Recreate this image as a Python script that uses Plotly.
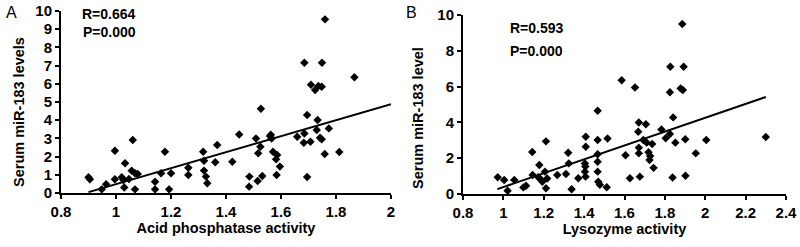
import plotly.graph_objects as go

# Panel A: acid phosphatase activity vs serum miR-183 levels
a_x = [0.900, 0.905, 0.948, 0.964, 0.996, 0.996, 1.021, 1.027, 1.033, 1.030, 1.047, 1.061, 1.057,
       1.069, 1.069, 1.079, 1.142, 1.142, 1.164, 1.178, 1.193, 1.200, 1.263, 1.263, 1.317, 1.320,
       1.320, 1.327, 1.332, 1.361, 1.368, 1.423, 1.448, 1.485, 1.484, 1.509, 1.517, 1.515, 1.525,
       1.527, 1.532, 1.560, 1.566, 1.563, 1.571, 1.586, 1.582, 1.596, 1.584, 1.659, 1.683, 1.685,
       1.685, 1.695, 1.695, 1.707, 1.709, 1.724, 1.730, 1.733, 1.736, 1.742, 1.748, 1.748, 1.749,
       1.759, 1.760, 1.774, 1.812, 1.867]
a_y = [0.86, 0.75, 0.20, 0.48, 2.32, 0.75, 0.86, 0.71, 1.63, 0.30, 0.77, 2.91, 1.22,
       1.08, 0.20, 1.04, 0.62, 0.20, 1.08, 2.27, 0.20, 1.08, 1.39, 0.99, 2.27, 1.77,
       1.23, 0.90, 0.53, 1.69, 2.64, 1.72, 3.22, 0.90, 0.35, 3.00, 2.18, 0.66, 2.54,
       4.63, 0.93, 3.13, 3.00, 3.20, 2.27, 2.09, 1.85, 1.45, 0.99, 3.09, 2.76, 3.27,
       7.16, 4.29, 0.88, 2.82, 5.95, 5.66, 3.46, 4.01, 5.88, 3.04, 2.95, 5.84, 7.16,
       2.14, 9.54, 3.55, 2.25, 6.36]
a_fit_x = [0.90, 2.00]
a_fit_y = [0.05, 4.88]
a_stats = ["R=0.664", "P=0.000"]

# Panel B: lysozyme activity vs serum miR-183 level
b_x = [0.972, 1.004, 1.021, 1.054, 1.099, 1.112, 1.143, 1.145, 1.178, 1.173, 1.185, 1.193, 1.211,
       1.206, 1.217, 1.211, 1.267, 1.310, 1.321, 1.324, 1.338, 1.371, 1.408, 1.408, 1.404, 1.406,
       1.404, 1.407, 1.467, 1.467, 1.467, 1.467, 1.467, 1.470, 1.478, 1.512, 1.516, 1.586, 1.605,
       1.627, 1.652, 1.668, 1.671, 1.671, 1.671, 1.676, 1.693, 1.706, 1.710, 1.719, 1.727, 1.724,
       1.737, 1.744, 1.783, 1.804, 1.825, 1.825, 1.827, 1.838, 1.841, 1.852, 1.878, 1.889, 1.886,
       1.893, 1.901, 1.902, 1.953, 2.005, 2.300]
b_y = [0.93, 0.78, 0.18, 0.78, 0.37, 0.46, 2.35, 1.06, 1.62, 0.93, 0.82, 0.69, 2.94,
       1.25, 0.87, 0.32, 1.06, 1.12, 2.31, 1.71, 0.26, 0.88, 3.20, 2.64, 1.71, 1.53,
       1.25, 0.97, 4.65, 3.02, 2.22, 1.80, 1.25, 0.69, 0.52, 0.38, 3.10, 6.35, 2.17,
       0.88, 5.95, 3.48, 4.00, 2.59, 2.27, 0.97, 3.02, 3.90, 2.87, 2.33, 2.12, 1.90,
       2.79, 1.46, 3.60, 3.11, 3.35, 5.69, 7.11, 0.92, 4.28, 2.87, 5.90, 5.81, 9.50,
       7.11, 3.06, 1.02, 2.27, 3.02, 3.18]
b_fit_x = [0.97, 2.30]
b_fit_y = [0.27, 5.42]
b_stats = ["R=0.593", "P=0.000"]

a_xticks = [0.8, 1.0, 1.2, 1.4, 1.6, 1.8, 2.0]
a_xlabels = ["0.8", "1", "1.2", "1.4", "1.6", "1.8", "2"]
a_yticks = list(range(0, 11))
b_xticks = [0.8, 1.0, 1.2, 1.4, 1.6, 1.8, 2.0, 2.2, 2.4]
b_xlabels = ["0.8", "1", "1.2", "1.4", "1.6", "1.8", "2", "2.2", "2.4"]
b_yticks = [0, 2, 4, 6, 8, 10]

a_xtitle = "Acid phosphatase activity"
a_ytitle = "Serum miR-183 levels"
b_xtitle = "Lysozyme activity"
b_ytitle = "Serum miR-183 level"

FONT = "Arial, 'Liberation Sans', sans-serif"
W, H = 800, 247


def bold(items):
    return ["<b>%s</b>" % s for s in items]


fig = go.Figure()
mk = dict(symbol="diamond", size=6.5, color="black")
fig.add_trace(go.Scatter(x=a_x, y=a_y, mode="markers", marker=mk, xaxis="x", yaxis="y", showlegend=False))
fig.add_trace(go.Scatter(x=a_fit_x, y=a_fit_y, mode="lines", line=dict(color="black", width=2),
                         xaxis="x", yaxis="y", showlegend=False))
fig.add_trace(go.Scatter(x=b_x, y=b_y, mode="markers", marker=mk, xaxis="x2", yaxis="y2", showlegend=False))
fig.add_trace(go.Scatter(x=b_fit_x, y=b_fit_y, mode="lines", line=dict(color="black", width=2),
                         xaxis="x2", yaxis="y2", showlegend=False))

tickfont = dict(family=FONT, size=15, color="black")
titlefont = dict(family=FONT, size=14.5, color="black")
common = dict(showgrid=False, zeroline=False, showline=True, linecolor="black", linewidth=2,
              ticks="outside", tickcolor="black", tickwidth=2, ticklen=4, tickfont=tickfont,
              automargin=False)

fig.update_layout(
    width=W, height=H,
    margin=dict(l=0, r=0, t=0, b=0, autoexpand=False),
    paper_bgcolor="white", plot_bgcolor="white",
    xaxis=dict(domain=[61 / W, 391 / W], range=[0.8, 2.0], tickvals=a_xticks, ticktext=bold(a_xlabels),
               title=dict(text="<b>%s</b>" % a_xtitle, font=titlefont, standoff=4),
               anchor="y", **common),
    yaxis=dict(domain=[54 / H, 236 / H], range=[0, 10], tickvals=a_yticks,
               ticktext=bold([str(v) for v in a_yticks]), anchor="x", **common),
    xaxis2=dict(domain=[463 / W, 786 / W], range=[0.8, 2.4], tickvals=b_xticks, ticktext=bold(b_xlabels),
                title=dict(text="<b>%s</b>" % b_xtitle, font=titlefont, standoff=4),
                anchor="y2", **common),
    yaxis2=dict(domain=[53 / H, 232 / H], range=[0, 10], tickvals=b_yticks,
                ticktext=bold([str(v) for v in b_yticks]), anchor="x2", **common),
)

# y-axis titles (placed as rotated annotations to match the original placement)
fig.add_annotation(text="<b>%s</b>" % a_ytitle, x=19 / W, y=1 - 112 / H, xref="paper", yref="paper",
                   textangle=-90, showarrow=False, xanchor="center", yanchor="middle", font=titlefont)
fig.add_annotation(text="<b>%s</b>" % b_ytitle, x=418 / W, y=1 - 118 / H, xref="paper", yref="paper",
                   textangle=-90, showarrow=False, xanchor="center", yanchor="middle", font=titlefont)

stat_font = dict(family=FONT, size=14, color="black")
fig.add_annotation(text="<b>%s</b>" % a_stats[0], x=0.975, y=9.83, xref="x", yref="y", showarrow=False,
                   xanchor="center", font=stat_font)
fig.add_annotation(text="<b>%s</b>" % a_stats[1], x=0.975, y=8.85, xref="x", yref="y", showarrow=False,
                   xanchor="center", font=stat_font)
fig.add_annotation(text="<b>%s</b>" % b_stats[0], x=1.166, y=9.26, xref="x2", yref="y2", showarrow=False,
                   xanchor="center", font=stat_font)
fig.add_annotation(text="<b>%s</b>" % b_stats[1], x=1.166, y=8.0, xref="x2", yref="y2", showarrow=False,
                   xanchor="center", font=stat_font)
fig.add_annotation(text="A", x=4 / W, y=1 - 12 / H, xref="paper", yref="paper", showarrow=False,
                   xanchor="left", yanchor="middle", font=dict(family=FONT, size=16, color="black"))
fig.add_annotation(text="B", x=404 / W, y=1 - 12 / H, xref="paper", yref="paper", showarrow=False,
                   xanchor="left", yanchor="middle", font=dict(family=FONT, size=16, color="black"))

fig.write_html("out.html", config={"displayModeBar": False},
               post_script="document.body.style.margin='0';document.body.style.overflow='hidden';")
